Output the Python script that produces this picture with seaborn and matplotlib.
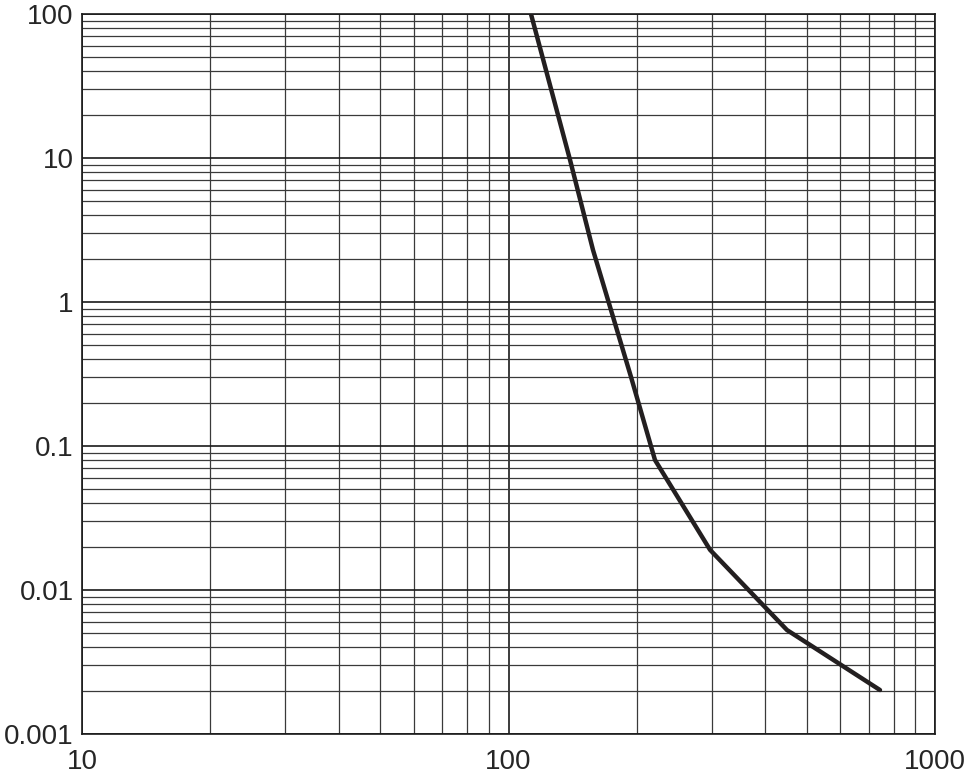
import pandas as pd
import matplotlib.pyplot as plt
import matplotlib.ticker as mticker
import seaborn as sns

sns.set_theme(style="white")
plt.rcParams["font.family"] = ["Liberation Sans", "DejaVu Sans"]

# curve (log-log)
x_vals = [112.9, 139.4, 157.8, 193.8, 220.5, 296.9, 449.8, 743.0]
y_vals = [100.0, 9.7, 2.30, 0.301, 0.080, 0.019, 0.00527, 0.00202]

x_ticks = [10, 100, 1000]
x_labels = ["10", "100", "1000"]
y_ticks = [0.001, 0.01, 0.1, 1, 10, 100]
y_labels = ["0.001", "0.01", "0.1", "1", "10", "100"]

df = pd.DataFrame({"x": x_vals, "y": y_vals})

fig = plt.figure(figsize=(9.68, 7.81), dpi=100)
ax = fig.add_axes([82 / 968, 1 - 734 / 781, (935 - 82) / 968, (734 - 14) / 781])

ax.set_xscale("log")
ax.set_yscale("log")
ax.set_xlim(10, 1000)
ax.set_ylim(0.001, 100)

ax.xaxis.set_minor_locator(mticker.LogLocator(base=10, subs=range(2, 10)))
ax.yaxis.set_minor_locator(mticker.LogLocator(base=10, subs=range(2, 10)))
ax.grid(which="major", color="#1a1a1a", lw=1.2)
ax.grid(which="minor", color="#3a3a3a", lw=0.9)
ax.set_axisbelow(True)

sns.lineplot(data=df, x="x", y="y", sort=False, estimator=None,
             color="#231f20", lw=3.2, ax=ax, zorder=5)

ax.set_xticks(x_ticks)
ax.set_xticklabels(x_labels)
ax.set_yticks(y_ticks)
ax.set_yticklabels(y_labels)
ax.xaxis.set_minor_formatter(mticker.NullFormatter())
ax.yaxis.set_minor_formatter(mticker.NullFormatter())
ax.tick_params(which="both", length=0, labelsize=20)
ax.tick_params(axis="x", pad=11)
ax.tick_params(axis="y", pad=6)
ax.set_xlabel("")
ax.set_ylabel("")

for s in ax.spines.values():
    s.set_color("#1a1a1a")
    s.set_linewidth(1.2)

fig.savefig("out.png", dpi=100)
